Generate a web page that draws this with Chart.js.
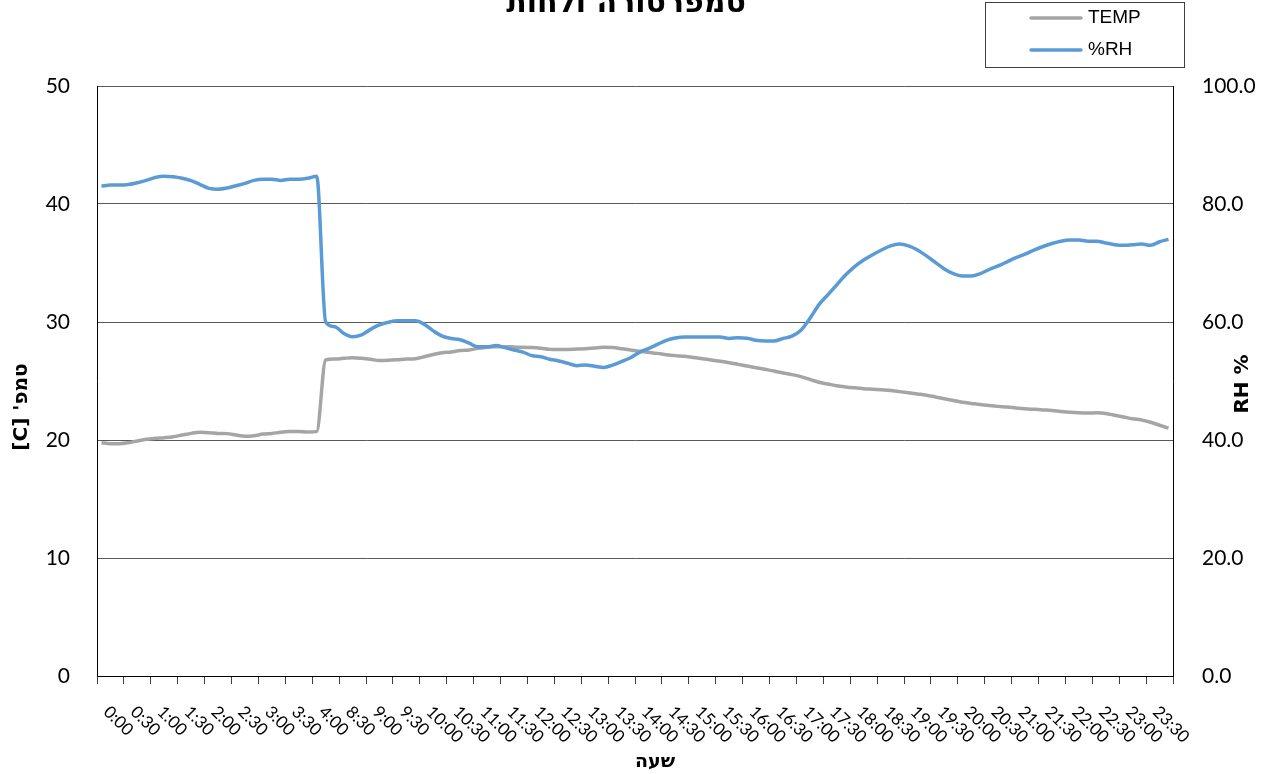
<!DOCTYPE html>
<html>
<head>
<meta charset="utf-8">
<script src="https://cdn.jsdelivr.net/npm/chart.js@4/dist/chart.umd.min.js"></script>
<style>
html,body{margin:0;padding:0;background:#fff;overflow:hidden;}
#wrap{width:1280px;height:774px;position:relative;}
</style>
</head>
<body>
<div id="wrap"><canvas id="c" width="1280" height="774"></canvas></div>
<script>
const chartTitle = "טמפרטורה ולחות";
const xTitle = "שעה";
const yTitle = "טמפ' [C]";
const y1Title = "RH %";
const seriesNames = ["TEMP", "%RH"];
const seriesColors = ["#A5A5A5", "#5B9BD5"];

const times = [
"0:00","0:10","0:20","0:30","0:40","0:50","1:00","1:10","1:20","1:30","1:40","1:50",
"2:00","2:10","2:20","2:30","2:40","2:50","3:00","3:10","3:20","3:30","3:40","3:50","4:00",
"8:10","8:20","8:30","8:40","8:50",
"9:00","9:10","9:20","9:30","9:40","9:50","10:00","10:10","10:20","10:30","10:40","10:50",
"11:00","11:10","11:20","11:30","11:40","11:50","12:00","12:10","12:20","12:30","12:40","12:50",
"13:00","13:10","13:20","13:30","13:40","13:50","14:00","14:10","14:20","14:30","14:40","14:50",
"15:00","15:10","15:20","15:30","15:40","15:50","16:00","16:10","16:20","16:30","16:40","16:50",
"17:00","17:10","17:20","17:30","17:40","17:50","18:00","18:10","18:20","18:30","18:40","18:50",
"19:00","19:10","19:20","19:30","19:40","19:50","20:00","20:10","20:20","20:30","20:40","20:50",
"21:00","21:10","21:20","21:30","21:40","21:50","22:00","22:10","22:20","22:30","22:40","22:50",
"23:00","23:10","23:20","23:30","23:40","23:50"
];

const temp = [
19.77,19.69,19.69,19.77,19.92,20.06,20.14,20.2,20.28,20.42,20.56,20.65,20.62,20.56,20.54,20.42,20.31,20.36,20.5,20.56,20.65,20.71,20.73,20.68,20.71,
26.78,26.86,26.92,26.97,26.92,26.84,26.73,26.75,26.8,26.86,26.89,27.06,27.25,27.4,27.45,27.58,
27.63,27.77,27.85,27.91,27.91,27.88,27.85,27.83,27.77,27.68,27.66,27.68,27.71,27.74,27.8,27.85,27.83,27.74,27.63,27.52,
27.43,27.34,27.23,27.15,27.09,27.0,26.89,26.78,26.67,26.55,26.41,26.27,26.13,25.99,25.85,25.68,25.54,25.37,25.14,24.89,
24.75,24.6,24.5,24.42,24.35,24.3,24.25,24.2,24.1,24.0,23.9,23.8,23.65,23.5,23.35,23.2,23.1,23.0,22.92,22.85,
22.8,22.72,22.65,22.6,22.55,22.5,22.42,22.35,22.3,22.28,22.3,22.25,22.1,21.95,21.8,21.7,21.5,21.25,21.0
];

const rh = [
83.05,83.2,83.2,83.3,83.6,84.0,84.5,84.7,84.6,84.35,83.95,83.3,82.65,82.5,82.7,83.1,83.5,84.0,84.2,84.2,84.0,84.2,84.2,84.35,84.7,
60.0,59.2,58.1,57.5,57.8,58.75,59.5,59.95,60.2,60.2,60.2,59.6,58.5,57.6,57.2,57.0,
56.4,55.8,55.8,56.0,55.65,55.25,54.9,54.3,54.1,53.7,53.4,53.0,52.6,52.7,52.5,52.3,52.7,53.3,53.95,54.85,
55.5,56.2,56.9,57.3,57.45,57.45,57.45,57.45,57.45,57.2,57.35,57.25,56.9,56.8,56.8,57.2,57.6,58.6,60.6,62.9,
64.6,66.3,68.0,69.4,70.5,71.4,72.2,72.9,73.2,72.9,72.2,71.2,70.1,69.0,68.2,67.8,67.8,68.2,68.9,69.5,
70.2,70.9,71.5,72.2,72.8,73.3,73.7,73.9,73.9,73.7,73.7,73.4,73.1,73.0,73.1,73.2,73.0,73.6,74.0
];

const tickFont = {family: "Lato, 'DejaVu Sans', sans-serif", size: 21};
const labelEvery = 3;

const textPlugin = {
  id: 'textPlugin',
  afterDraw(chart) {
    const ctx = chart.ctx;
    const xs = chart.scales.x, ys = chart.scales.y, y1 = chart.scales.y1;
    const ca = chart.chartArea;
    ctx.save();
    // chart title (clipped at top)
    ctx.fillStyle = '#000';
    ctx.font = "bold 30px 'DejaVu Sans', sans-serif";
    ctx.textAlign = 'center';
    ctx.textBaseline = 'alphabetic';
    ctx.fillText(chartTitle, 626, 12);

    // x tick labels rotated clockwise
    ctx.font = "17px Lato, 'DejaVu Sans', sans-serif";
    ctx.textAlign = 'left';
    ctx.textBaseline = 'middle';
    times.forEach((t, i) => {
      if (i % labelEvery) return;
      const cx = xs.getPixelForValue(i + 1);
      ctx.save();
      ctx.translate(cx - 4, xs.top + 33);
      ctx.rotate(Math.PI / 4);
      ctx.fillText(t, 0, 0);
      ctx.restore();
    });

    // x title
    ctx.font = "bold 19px 'DejaVu Sans', sans-serif";
    ctx.textAlign = 'center';
    ctx.fillText(xTitle, (ca.left + ca.right) / 2 + 20, 762);

    // left y title
    ctx.save();
    ctx.translate(ys.left + 22, (ca.top + ca.bottom) / 2 + 26);
    ctx.rotate(-Math.PI / 2);
    ctx.direction = 'rtl';
    ctx.font = "bold 20px 'DejaVu Sans', sans-serif";
    ctx.textAlign = 'center';
    ctx.fillText(yTitle, 0, 0);
    ctx.restore();

    // right y title
    ctx.save();
    ctx.translate(y1.right - 37, (ca.top + ca.bottom) / 2 + 3);
    ctx.rotate(-Math.PI / 2);
    ctx.font = "bold 20px 'DejaVu Sans', sans-serif";
    ctx.textAlign = 'center';
    ctx.fillText(y1Title, 0, 0);
    ctx.restore();

    // legend
    ctx.fillStyle = '#fff';
    ctx.fillRect(985.5, 2.5, 199, 65);
    ctx.strokeStyle = '#404040';
    ctx.lineWidth = 1;
    ctx.strokeRect(985.5, 2.5, 199, 65);
    chart.data.datasets.forEach((ds, k) => {
      const ly = 18 + k * 32;
      ctx.strokeStyle = ds.borderColor;
      ctx.lineWidth = 3.5;
      ctx.lineCap = 'round';
      ctx.beginPath();
      ctx.moveTo(1031, ly);
      ctx.lineTo(1081, ly);
      ctx.stroke();
      ctx.fillStyle = '#000';
      ctx.font = "19px 'Liberation Sans Narrow', 'Liberation Sans', sans-serif";
      ctx.textAlign = 'left';
      ctx.textBaseline = 'middle';
      ctx.fillText(ds.label, 1088, ly);
    });
    ctx.restore();
  }
};

new Chart(document.getElementById('c'), {
  type: 'line',
  data: {
    labels: times,
    datasets: [
      {label: seriesNames[0], data: temp, yAxisID: 'y', borderColor: seriesColors[0], borderWidth: 3.5,
       pointRadius: 0, cubicInterpolationMode: 'monotone', order: 1, fill: false},
      {label: seriesNames[1], data: rh, yAxisID: 'y1', borderColor: seriesColors[1], borderWidth: 3.5,
       pointRadius: 0, cubicInterpolationMode: 'monotone', order: 0, fill: false}
    ]
  },
  options: {
    responsive: false,
    animation: false,
    devicePixelRatio: 1,
    layout: {padding: {top: 86, left: 0, right: 0, bottom: 0}},
    plugins: {legend: {display: false}, title: {display: false}, tooltip: {enabled: false}},
    scales: {
      x: {
        type: 'category',
        offset: true,
        grid: {
          offset: true,
          drawOnChartArea: false,
          drawTicks: true,
          tickLength: 8,
          tickWidth: 1,
          tickColor: (c) => (c.index === undefined || c.index % labelEvery === 0) ? '#404040' : 'rgba(0,0,0,0)'
        },
        border: {color: '#000', width: 1},
        ticks: {display: false, autoSkip: false},
        afterFit: (s) => { s.height = 98; }
      },
      y: {
        position: 'left',
        min: 0, max: 50,
        ticks: {stepSize: 10, font: tickFont, color: '#000', padding: 27},
        grid: {color: '#595959', drawTicks: false, lineWidth: 1},
        border: {color: '#000', width: 1},
        afterFit: (s) => { s.width = 97; }
      },
      y1: {
        position: 'right',
        min: 0, max: 100,
        ticks: {stepSize: 20, font: tickFont, color: '#000', padding: 29, callback: (v) => Number(v).toFixed(1)},
        grid: {drawOnChartArea: false, drawTicks: false},
        border: {color: '#000', width: 1},
        afterFit: (s) => { s.width = 107; }
      }
    }
  },
  plugins: [textPlugin]
});
</script>
</body>
</html>
